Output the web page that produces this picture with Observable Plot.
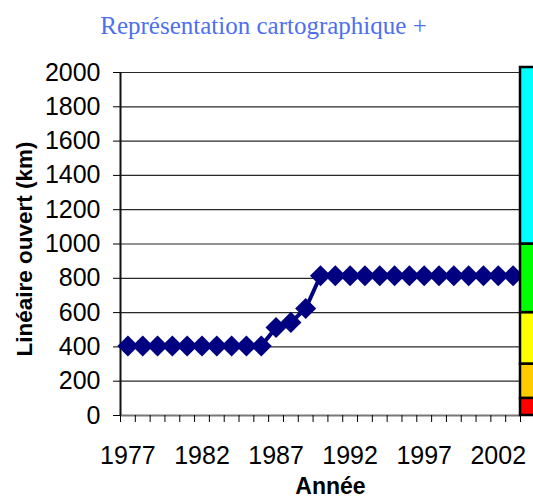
<!DOCTYPE html>
<html>
<head>
<meta charset="utf-8">
<script src="https://cdn.jsdelivr.net/npm/d3@7"></script>
<script src="https://cdn.jsdelivr.net/npm/@observablehq/plot@0.6"></script>
<style>
  html, body { margin: 0; padding: 0; background: #fff; overflow: hidden; }
</style>
</head>
<body>
<div id="chart"></div>
<script>
const title = "Représentation cartographique +";
const xTitle = "Année";
const yTitle = "Linéaire ouvert (km)";

const years = [1977, 1978, 1979, 1980, 1981, 1982, 1983, 1984, 1985, 1986,
               1987, 1988, 1989, 1990, 1991, 1992, 1993, 1994, 1995, 1996,
               1997, 1998, 1999, 2000, 2001, 2002, 2003];
const values = [405, 405, 405, 405, 405, 405, 405, 405, 405, 405,
                513, 543, 624, 815, 815, 815, 815, 815, 815, 815,
                815, 815, 815, 815, 815, 815, 815];

const xLabels = [1977, 1982, 1987, 1992, 1997, 2002];
const yTicks = [0, 200, 400, 600, 800, 1000, 1200, 1400, 1600, 1800, 2000];

const bandFrom = [0, 100, 300, 600, 1000];
const bandTo = [100, 300, 600, 1000, 2000];
const bandColors = ["#ff0000", "#ffcc00", "#ffff00", "#00ff00", "#00ffff"];

const data = years.map((year, i) => ({year, value: values[i]}));
const bands = bandFrom.map((from, i) => ({from, to: bandTo[i], color: bandColors[i]}));
const xStart = years[0] - 0.5;
const xEnd = years[years.length - 1] + 0.5;
const boundaries = years.map(y => y - 0.5).concat([xEnd]);

const chart = Plot.plot({
  width: 533,
  height: 498,
  marginTop: 72,
  marginBottom: 83,
  marginLeft: 120,
  marginRight: 13,
  style: {fontFamily: "Arial, 'Liberation Sans', sans-serif", color: "#000", background: "#fff", overflow: "hidden"},
  x: {type: "linear", domain: [xStart, xEnd]},
  y: {domain: [0, 2000]},
  marks: [
    Plot.gridY(yTicks.filter(d => d > 0), {stroke: "#111", strokeOpacity: 0.9, strokeWidth: 1.2}),
    Plot.ruleY([0], {stroke: "#777", strokeWidth: 2}),
    Plot.ruleX([xStart], {y1: 0, y2: 2000, stroke: "#111", strokeWidth: 2}),
    Plot.axisY(yTicks, {tickSize: 7, tickPadding: 13, fontSize: 25, label: null, tickFormat: d => String(d)}),
    Plot.axisX(boundaries, {tickSize: 7, tickFormat: () => "", label: null}),
    Plot.axisX(xLabels, {tickSize: 0, tickPadding: 31, fontSize: 25, label: null, tickFormat: d => String(d)}),
    Plot.line(data, {x: "year", y: "value", stroke: "#000080", strokeWidth: 4}),
    Plot.dot(data, {x: "year", y: "value", symbol: "diamond2", r: 9.5, fill: "#000080", stroke: "none"}),
    Plot.rect(bands.slice(0, -1), {x1: () => xEnd, x2: () => xEnd + 1.5, y1: "from", y2: "to", fill: "color", stroke: "#000", strokeWidth: 2.5}),
    Plot.rect(bands.slice(-1), {x1: () => xEnd, x2: () => xEnd + 1.5, y1: "from", y2: "to", fill: "color", stroke: "#000", strokeWidth: 2.5, insetTop: -5}),
    Plot.text([yTitle], {frameAnchor: "left", rotate: -90, dx: -96, dy: 5, fontSize: 22.5, fontWeight: "bold", textAnchor: "middle", fill: "#000"}),
    Plot.text([xTitle], {frameAnchor: "bottom", dx: 10, dy: 78, lineAnchor: "bottom", fontSize: 23, fontWeight: "bold", fill: "#000"}),
    Plot.text([title], {frameAnchor: "top", dx: -57, dy: -39, lineAnchor: "bottom", fontSize: 25, fontFamily: "'Liberation Serif', 'DejaVu Serif', serif", fill: "#4d6ff2"})
  ]
});
document.getElementById("chart").appendChild(chart);
</script>
</body>
</html>
